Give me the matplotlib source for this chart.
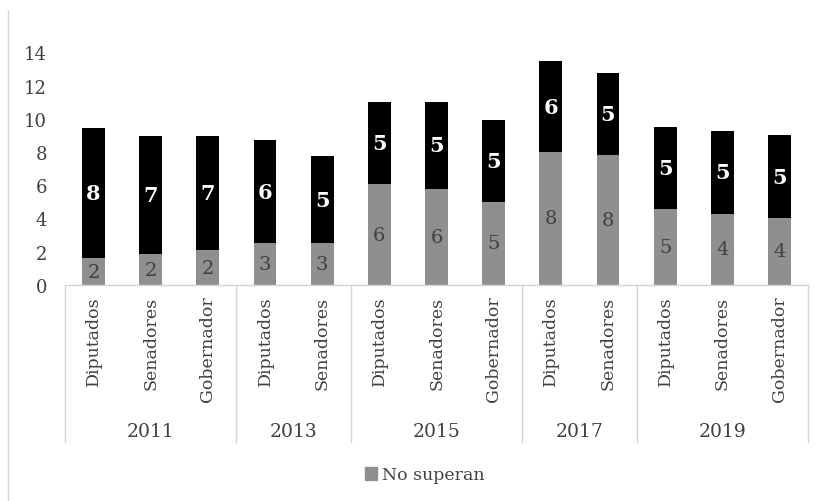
import matplotlib
matplotlib.use("Agg")
import matplotlib.pyplot as plt
import matplotlib.transforms as mtransforms
from matplotlib.lines import Line2D
from matplotlib.patches import Patch

plt.rcParams['font.family'] = ['DejaVu Serif']

# data
years = ["2011", "2013", "2015", "2017", "2019"]
cargos = [["Diputados", "Senadores", "Gobernador"],
          ["Diputados", "Senadores"],
          ["Diputados", "Senadores", "Gobernador"],
          ["Diputados", "Senadores"],
          ["Diputados", "Senadores", "Gobernador"]]
no_superan = [1.6, 1.85, 2.1, 2.5, 2.5, 6.05, 5.8, 5.0, 8.0, 7.8, 4.55, 4.3, 4.05]
superan = [7.85, 7.1, 6.85, 6.2, 5.25, 4.95, 5.2, 4.95, 5.45, 4.95, 4.95, 4.95, 4.95]
no_superan_lbl = ["2", "2", "2", "3", "3", "6", "6", "5", "8", "8", "5", "4", "4"]
superan_lbl = ["8", "7", "7", "6", "5", "5", "5", "5", "6", "5", "5", "5", "5"]

gray = "#8f8f8f"
line_c = "#d4d4d4"
txt_c = "#404040"

fig = plt.figure(figsize=(8.24, 5.02), dpi=100)
ax = fig.add_axes([65 / 824, 1 - 286 / 502, 743 / 824, 266 / 502])

n = len(no_superan)
x = list(range(n))
ax.bar(x, no_superan, width=0.4, color=gray)
ax.bar(x, superan, width=0.4, bottom=no_superan, color="black")

for i in x:
    ax.text(i, no_superan[i] / 2, no_superan_lbl[i], ha="center", va="center",
            fontsize=14, color=txt_c)
    ax.text(i, no_superan[i] + superan[i] / 2, superan_lbl[i], ha="center",
            va="center", fontsize=15, color="white", fontweight="bold")

ax.set_xlim(-0.5, n - 0.5)
ax.set_ylim(0, 16)
ax.set_yticks(range(0, 15, 2))
ax.tick_params(axis="y", length=0, pad=13, labelsize=13, labelcolor=txt_c)
ax.set_xticks([])
for s in ["top", "right", "left", "bottom"]:
    ax.spines[s].set_visible(False)

# multi-level category axis
trans = mtransforms.blended_transform_factory(ax.transData, ax.transAxes)
ybot = (286 - 443) / 266
ax.add_line(Line2D([-0.5, n - 0.5], [0, 0], transform=trans, color=line_c,
                   lw=1, clip_on=False))
pos = 0
bounds = [-0.5]
for yr, cs in zip(years, cargos):
    for c in cs:
        ax.text(pos, -0.04, c, transform=trans, rotation=90, ha="center",
                va="top", fontsize=12.5, color=txt_c)
        pos += 1
    ax.text(pos - len(cs) / 2 - 0.5, (286 - 432) / 266, yr, transform=trans,
            ha="center", va="center", fontsize=13.5, color=txt_c)
    bounds.append(pos - 0.5)
for b in bounds:
    ax.add_line(Line2D([b, b], [0, ybot], transform=trans, color=line_c,
                       lw=1, clip_on=False))

# chart border fragment on the left
fig.add_artist(Line2D([8 / 824, 8 / 824], [0, 1 - 12 / 502], color=line_c, lw=1))

fig.legend(handles=[Patch(color=gray, label="No superan")], loc="center",
           bbox_to_anchor=(425 / 824, 1 - 476 / 502), frameon=False,
           fontsize=12.5, handlelength=0.7, handleheight=0.7, handletextpad=0.3,
           labelcolor=txt_c)

fig.savefig("out.png", dpi=100)
